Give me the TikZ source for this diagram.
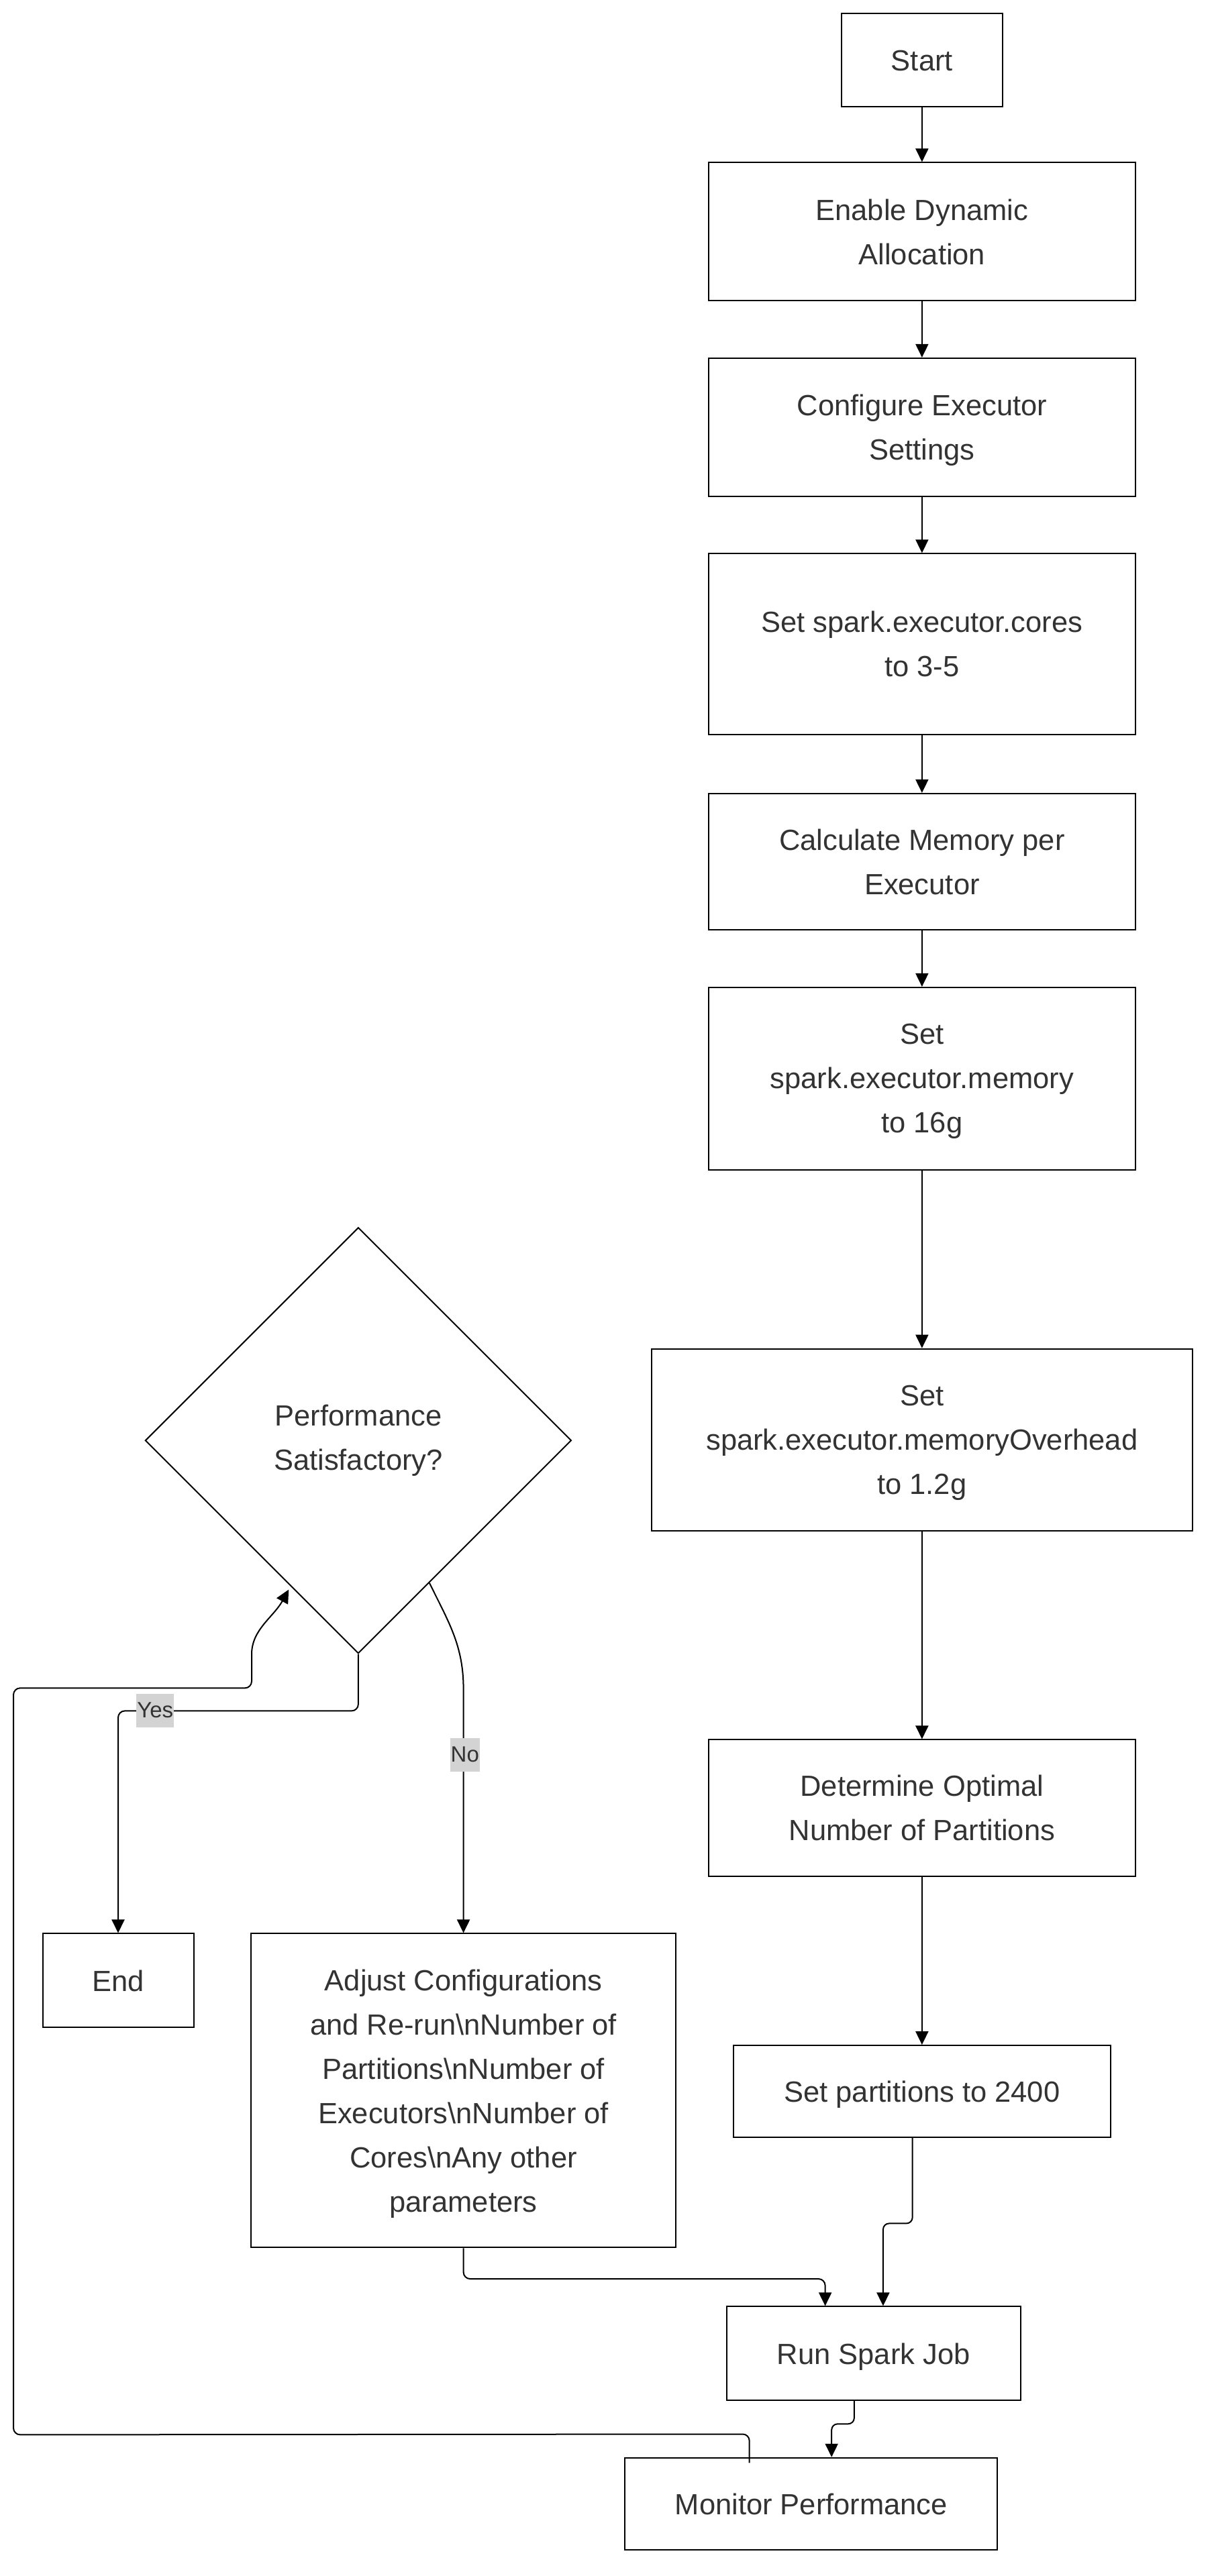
\documentclass[tikz,border=0pt]{standalone}
\usepackage{fontspec}
\setmainfont{Liberation Sans}
\usetikzlibrary{arrows.meta,shapes.geometric,calc}
\definecolor{txt}{HTML}{333333}
\definecolor{lblbg}{HTML}{D3D3D3}
\newcommand{\mystrut}{\rule[-9.8pt]{0pt}{66pt}}
\newcommand{\onestrut}{\rule[-16.8pt]{0pt}{66pt}}
\tikzset{
  base/.style={draw=black, line width=2pt, fill=white, align=center, text=txt,
    font=\fontsize{43.5}{66}\selectfont, inner sep=0pt},
  box/.style={base, text depth=0pt},
  onebox/.style={base, execute at begin node=\onestrut},
  dec/.style={base, diamond, aspect=1, minimum width=635pt, minimum height=635pt,
    execute at begin node=\mystrut, execute at end node=\mystrut},
  arr/.style={line width=2pt, draw=black, -{Triangle[length=20pt,width=19pt]}},
  lbl/.style={fill=lblbg, text=txt, font=\fontsize{33}{50}\selectfont,
    inner xsep=1pt, inner ysep=0pt, execute at begin node=\strut}
}
\begin{document}
\begin{tikzpicture}[x=2.4446pt, y=-2.449pt]
\fill[white] (0,0) rectangle (740,1568);
\path[use as bounding box] (0,0) rectangle (740,1568);

% main column
\node[onebox, minimum width=239.6pt, minimum height=139.6pt] (start) at (562,36.5) {Start};
\node[box, minimum width=635.6pt, minimum height=205.7pt] (en) at (562,141) {Enable Dynamic\\Allocation};
\node[box, minimum width=635.6pt, minimum height=205.7pt] (conf) at (562,260) {Configure Executor\\Settings};
\node[box, minimum width=635.6pt, minimum height=269.4pt] (cores) at (562,392) {Set spark.executor.cores\\to 3-5};
\node[box, minimum width=635.6pt, minimum height=203.3pt] (calc) at (562,524.5) {Calculate Memory per\\Executor};
\node[box, minimum width=635.6pt, minimum height=271.8pt] (mem) at (562,656.5) {Set\\spark.executor.memory\\to 16g};
\node[box, minimum width=806.7pt, minimum height=271.8pt] (ovh) at (562,876.5) {Set\\spark.executor.memoryOverhead\\to 1.2g};
\node[box, minimum width=635.6pt, minimum height=203.3pt] (det) at (562,1100.5) {Determine Optimal\\Number of Partitions};
\node[onebox, minimum width=562.3pt, minimum height=137pt] (sp) at (562,1273) {Set partitions to 2400};
\node[onebox, minimum width=437.6pt, minimum height=139.6pt] (run) at (532.5,1432.5) {Run Spark Job};
\node[onebox, minimum width=555pt, minimum height=137pt] (mon) at (494.5,1524) {Monitor Performance};

% left part
\node[dec] (dia) at (218.4,876.8) {Performance\\Satisfactory?};
\node[onebox, minimum width=225pt, minimum height=139.6pt] (end) at (72,1205.5) {End};
\node[box, minimum width=633pt, minimum height=467.8pt] (adj) at (282.5,1272.5)
  {Adjust Configurations\\and Re-run\textbackslash nNumber of\\Partitions\textbackslash nNumber of\\Executors\textbackslash nNumber of\\Cores\textbackslash nAny other\\parameters};

% straight chain
\draw[arr] (start) -- (en);
\draw[arr] (en) -- (conf);
\draw[arr] (conf) -- (cores);
\draw[arr] (cores) -- (calc);
\draw[arr] (calc) -- (mem);
\draw[arr] (mem) -- (ovh);
\draw[arr] (ovh) -- (det);
\draw[arr] (det) -- (sp);

% set partitions -> run
\draw[arr, rounded corners=9pt] ($(sp.south)+(-5.8,0)$) -- ++(0,52) -| ($(run.north)+(5.8,0)$);
% adjust -> run
\draw[arr, rounded corners=10pt] (adj.south) -- ++(0,18.7) -| ($(run.north)+(-29.5,0)$);
% run -> monitor
\draw[arr, rounded corners=9pt] ($(run.south)+(-11.8,0)$) -- ++(0,14) -| ($(mon.north)+(12.4,0)$);

% monitor -> decision (feedback)
\coordinate (fbS) at ($(mon.north)+(-37.7,3.5)$);
\coordinate (tip) at ($(dia.south)!0.31!(dia.west)+(-2,1)$);
\draw[arr, rounded corners=10pt] (fbS) -- ($(mon.north)+(-37.7,-14)$) -- (8.2,1482) -- (8.2,1027.5) -- (153.4,1027.5) -- (153.4,1011) to[out=90,in=241] (tip);

% yes / no
\coordinate (yesY) at (0,1041.4);
\draw[arr, rounded corners=10pt] (dia.south) -- (dia.south |- yesY) -- (end.north |- yesY) -- (end.north);
\coordinate (noS) at ($(dia.south)!0.333!(dia.east)$);
\coordinate (noY) at (0,1028);
\draw[arr] (noS) to[out=-64,in=90] (adj.north |- noY) -- (adj.north);

\node[lbl] (yes) at (94.6,1041.4) {Yes};
\node[lbl] (no) at (283.4,1068.2) {No};
\end{tikzpicture}
\end{document}
